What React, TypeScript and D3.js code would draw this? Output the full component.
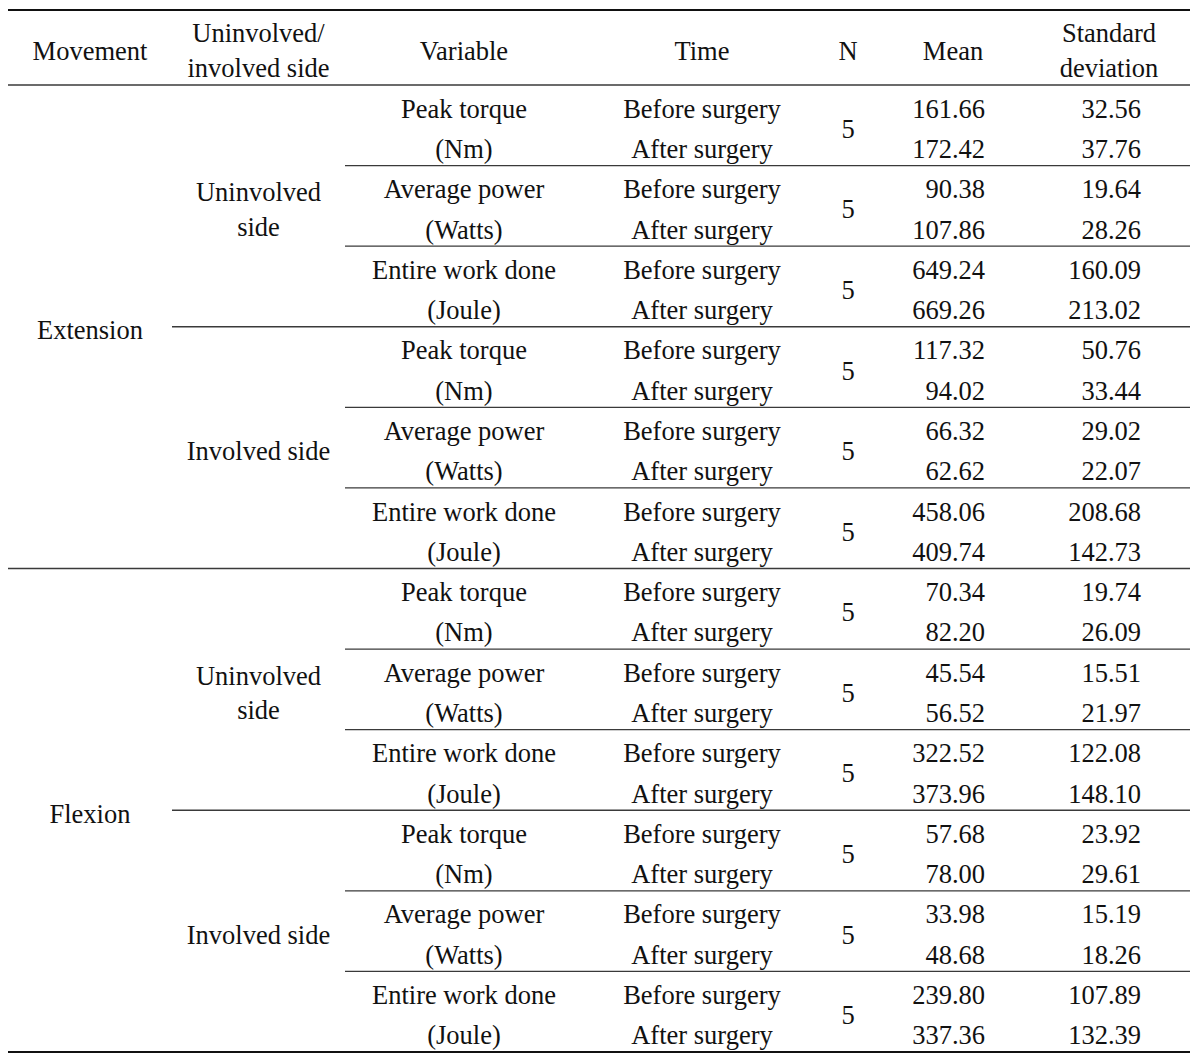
import React from "react";
import * as d3 from "d3";

const headers = ["Movement", "Uninvolved/|involved side", "Variable", "Time", "N", "Mean", "Standard|deviation"];
const movements = ["Extension", "Flexion"];
const sides = ["Uninvolved|side", "Involved side"];
const variables = ["Peak torque", "Average power", "Entire work done"];
const units = ["(Nm)", "(Watts)", "(Joule)"];
const times = ["Before surgery", "After surgery"];
const nValues = [5, 5, 5, 5, 5, 5, 5, 5, 5, 5, 5, 5];
const means = [
  "161.66", "172.42", "90.38", "107.86", "649.24", "669.26",
  "117.32", "94.02", "66.32", "62.62", "458.06", "409.74",
  "70.34", "82.20", "45.54", "56.52", "322.52", "373.96",
  "57.68", "78.00", "33.98", "48.68", "239.80", "337.36",
];
const sds = [
  "32.56", "37.76", "19.64", "28.26", "160.09", "213.02",
  "50.76", "33.44", "29.02", "22.07", "208.68", "142.73",
  "19.74", "26.09", "15.51", "21.97", "122.08", "148.10",
  "23.92", "29.61", "15.19", "18.26", "107.89", "132.39",
];

const W = 1200;
const H = 1060;
const FONT = "'Liberation Serif', 'Times New Roman', serif";
const FS = 26.5;
const LINE = "#3a3a3a";
const xL = 8;
const xR = 1190;

export default function App() {
  const nRows = means.length;
  const y = d3.scaleLinear().domain([0, nRows]).range([85, 1052]);
  const colCenter = { mov: 90, side: 258.5, variable: 464, time: 702, n: 848, meanHdr: 953, sdHdr: 1109 };
  const meanRight = 985;
  const sdRight = 1141;
  const off = 12.5; // baseline offset from vertical center

  const texts: React.ReactNode[] = [];
  const lines: React.ReactNode[] = [];
  let k = 0;
  const T = (x: number, yy: number, s: string, anchor = "middle") =>
    texts.push(
      <text key={"t" + k++} x={x} y={yy} textAnchor={anchor} fontFamily={FONT} fontSize={FS} fill="#111">
        {s}
      </text>
    );
  const multi = (x: number, cy: number, s: string) => {
    const parts = s.split("|");
    const lh = 34.5;
    parts.forEach((p, i) => T(x, cy + off + (i - (parts.length - 1) / 2) * lh, p));
  };

  // header
  const hc = 85 / 2 + 5.5;
  const hx = [colCenter.mov, colCenter.side, colCenter.variable, colCenter.time, colCenter.n, colCenter.meanHdr, colCenter.sdHdr];
  headers.forEach((h, i) => multi(hx[i], hc - 1, h));

  // rows
  movements.forEach((m, mi) => {
    const r0 = mi * 12;
    multi(colCenter.mov, (y(r0) + y(r0 + 12)) / 2, m);
    sides.forEach((s, si) => {
      const s0 = r0 + si * 6;
      multi(colCenter.side, (y(s0) + y(s0 + 6)) / 2, s);
      variables.forEach((v, vi) => {
        const v0 = s0 + vi * 2;
        T(colCenter.variable, y(v0 + 0.5) + off, v);
        T(colCenter.variable, y(v0 + 1.5) + off, units[vi]);
        times.forEach((t, ti) => T(colCenter.time, y(v0 + ti + 0.5) + off, t));
        T(colCenter.n, y(v0 + 1) + off, String(nValues[mi * 6 + si * 3 + vi]));
        [0, 1].forEach((ti) => {
          T(meanRight, y(v0 + ti + 0.5) + off, means[v0 + ti], "end");
          T(sdRight, y(v0 + ti + 0.5) + off, sds[v0 + ti], "end");
        });
        if (vi < 2) {
          lines.push(<line key={"l" + k++} x1={345} x2={xR} y1={y(v0 + 2)} y2={y(v0 + 2)} stroke={LINE} strokeWidth={1.3} />);
        }
      });
      if (si === 0) {
        lines.push(<line key={"l" + k++} x1={172} x2={xR} y1={y(s0 + 6)} y2={y(s0 + 6)} stroke={LINE} strokeWidth={1.3} />);
      }
    });
    if (mi === 0) {
      lines.push(<line key={"l" + k++} x1={xL} x2={xR} y1={y(12)} y2={y(12)} stroke={LINE} strokeWidth={1.3} />);
    }
  });

  return (
    <svg width={W} height={H} style={{ position: "absolute", left: 0, top: 0, display: "block", background: "#fff" }}>
      <rect x={0} y={0} width={W} height={H} fill="#fff" />
      <line x1={xL} x2={xR} y1={10} y2={10} stroke="#111" strokeWidth={2} />
      <line x1={xL} x2={xR} y1={85} y2={85} stroke={LINE} strokeWidth={1.3} />
      <line x1={xL} x2={xR} y1={1052} y2={1052} stroke="#111" strokeWidth={2} />
      {lines}
      {texts}
    </svg>
  );
}
